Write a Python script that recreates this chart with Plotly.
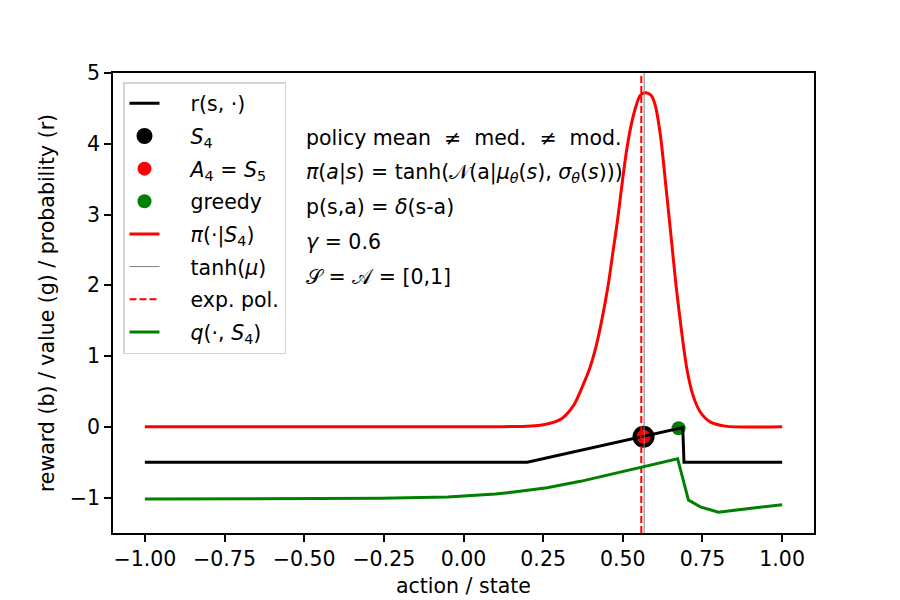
import plotly.graph_objects as go

# values
r_x = [-1.0, 0.2, 0.688, 0.692, 1.0]
r_y = [-0.5, -0.5, -0.01, -0.5, -0.5]

pi_x = [-1.0, 0.0, 0.1, 0.15, 0.2, 0.241, 0.272, 0.309, 0.346, 0.375, 0.396, 0.417, 0.435,
        0.454, 0.469, 0.484, 0.497, 0.511, 0.526, 0.542, 0.555, 0.573, 0.590, 0.602, 0.618,
        0.635, 0.651, 0.667, 0.686, 0.701, 0.72, 0.743, 0.774, 0.821, 1.0]
pi_y = [0.0, 0.0, 0.001, 0.004, 0.01, 0.024, 0.05, 0.118, 0.306, 0.589, 0.824, 1.154, 1.531,
        2.0, 2.47, 2.94, 3.41, 3.88, 4.26, 4.54, 4.685, 4.72, 4.68, 4.54, 4.12,
        3.41, 2.71, 2.0, 1.295, 0.82, 0.448, 0.21, 0.07, 0.01, 0.0]

q_x = [-1.0, -0.75, -0.5, -0.26, -0.05, 0.05, 0.1, 0.158, 0.262, 0.367, 0.471, 0.555,
       0.672, 0.706, 0.743, 0.80, 1.0]
q_y = [-1.02, -1.02, -1.015, -1.01, -0.99, -0.97, -0.95, -0.92, -0.86, -0.77, -0.66, -0.57,
       -0.45, -1.035, -1.13, -1.205, -1.10]

s4 = (0.565, -0.14)
a4 = (0.565, -0.14)
greedy = (0.675, -0.02)
tanh_mu = 0.567
exp_pol = 0.558

y_span = [-1.5, 5]

notes = [
    "policy mean  ≠  med.  ≠  mod.",
    "<i>π</i>(<i>a</i>|<i>s</i>) = tanh(𝒩(a|<i>μ</i><sub><i>θ</i></sub>(<i>s</i>), <i>σ</i><sub><i>θ</i></sub>(<i>s</i>)))",
    "p(s,a) = <i>δ</i>(s-a)",
    "<i>γ</i> = 0.6",
    "𝒮 = 𝒜 = [0,1]",
]
note_y = [138, 173, 207, 242, 277]

FONT = "DejaVu Sans"
FS = 20.5
PAD = "\u00a0" * 4  # push legend labels right, like matplotlib's handle gap

fig = go.Figure()

# markers first so the lines sit on top (like matplotlib zorder)
fig.add_trace(go.Scatter(x=[s4[0]], y=[s4[1]], mode="markers", name=PAD + "<i>S</i><sub>4</sub>",
                         marker=dict(color="black", size=22), legendrank=2, legendgroup="b"))
fig.add_trace(go.Scatter(x=[a4[0]], y=[a4[1]], mode="markers",
                         name=PAD + "<i>A</i><sub>4</sub> = <i>S</i><sub>5</sub>",
                         marker=dict(color="red", size=14), legendrank=3, legendgroup="c"))
fig.add_trace(go.Scatter(x=[greedy[0]], y=[greedy[1]], mode="markers", name=PAD + "greedy",
                         marker=dict(color="green", size=14), legendrank=4, legendgroup="d"))

fig.add_trace(go.Scatter(x=r_x, y=r_y, mode="lines", name=PAD + "r(s, ·)",
                         line=dict(color="black", width=3), legendrank=1, legendgroup="a"))
fig.add_trace(go.Scatter(x=pi_x, y=pi_y, mode="lines", name=PAD + "<i>π</i>(·|<i>S</i><sub>4</sub>)",
                         line=dict(color="red", width=3, shape="spline", smoothing=0.8),
                         legendrank=5, legendgroup="e"))
fig.add_trace(go.Scatter(x=[tanh_mu, tanh_mu], y=y_span, mode="lines", name=PAD + "tanh(<i>μ</i>)",
                         line=dict(color="grey", width=1), legendrank=6, legendgroup="f"))
fig.add_trace(go.Scatter(x=[exp_pol, exp_pol], y=y_span, mode="lines", name=PAD + "exp. pol.",
                         line=dict(color="red", width=2, dash="7px,3px"), legendrank=7, legendgroup="g"))
fig.add_trace(go.Scatter(x=q_x, y=q_y, mode="lines", name=PAD + "<i>q</i>(·, <i>S</i><sub>4</sub>)",
                         line=dict(color="green", width=3), legendrank=8, legendgroup="h"))

# reference pixel frame (page body adds 8px offset)
L_REF, T_REF, PW, PH = 113, 73, 701, 460
L, T = L_REF - 8, T_REF - 8

for txt, py in zip(notes, note_y):
    fig.add_annotation(text=txt, xref="paper", yref="paper",
                       x=(304 - L_REF) / PW, y=(T_REF + PH - py) / PH,
                       xanchor="left", yanchor="middle", showarrow=False,
                       font=dict(family=FONT, size=FS, color="black"))

fig.update_layout(
    width=900, height=600,
    margin=dict(l=L, r=900 - L - PW, t=T, b=600 - T - PH),
    plot_bgcolor="white", paper_bgcolor="white",
    font=dict(family=FONT, size=FS, color="black"),
    legend=dict(x=(123 - L_REF) / PW, y=(T_REF + PH - 82) / PH, xanchor="left", yanchor="top",
                bordercolor="#d5d5d5", borderwidth=1.5, bgcolor="rgba(255,255,255,0.8)",
                tracegroupgap=3, itemsizing="trace", font=dict(size=FS)),
)
fig.update_xaxes(range=[-1.1, 1.1], tick0=-1, dtick=0.25, tickformat=".2f",
                 showline=True, linecolor="black", linewidth=1.7, mirror=True,
                 ticks="outside", ticklen=7, tickwidth=1.7, tickcolor="black",
                 showgrid=False, zeroline=False,
                 title=dict(text="action / state", standoff=8, font=dict(size=FS)))
fig.update_yaxes(range=[-1.5, 5], tick0=-1, dtick=1,
                 showline=True, linecolor="black", linewidth=1.7, mirror=True,
                 ticks="outside", ticklen=7, tickwidth=1.7, tickcolor="black",
                 showgrid=False, zeroline=False,
                 title=dict(text="reward (b) / value (g) / probability (r)", standoff=10,
                            font=dict(size=FS)))

fig.write_html("out.html")
